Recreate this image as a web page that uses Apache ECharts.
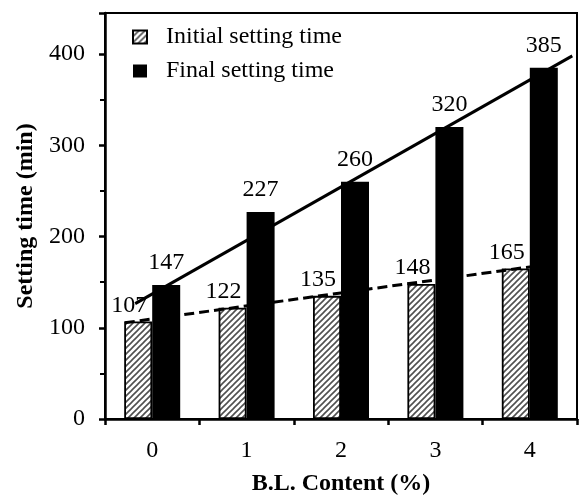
<!DOCTYPE html>
<html>
<head>
<meta charset="utf-8">
<script src="https://cdn.jsdelivr.net/npm/echarts@6/dist/echarts.min.js"></script>
<style>html,body{margin:0;padding:0;background:#fff}#c{width:580px;height:501px}</style>
</head>
<body>
<div id="c"></div>
<script>
var categories = ['0', '1', '2', '3', '4'];
var initialTime = [107, 122, 135, 148, 165];
var finalTime = [147, 227, 260, 320, 385];
var seriesNames = ['Initial setting time', 'Final setting time'];
// trend lines: [category position, value]
var finalTrend = [[-0.18, 126.5], [4.45, 398]];
var initialTrend = [[-0.29, 105.5], [4.02, 167]];
var yTicks = [0, 100, 200, 300, 400];

var FONT = "'Liberation Serif', 'Times New Roman', serif";

var pc = document.createElement('canvas');
pc.width = 6; pc.height = 6;
var g = pc.getContext('2d');
g.fillStyle = '#fff'; g.fillRect(0, 0, 6, 6);
g.strokeStyle = '#505050'; g.lineWidth = 1.6;
g.beginPath();
g.moveTo(-1, 7); g.lineTo(7, -1);
g.moveTo(-1, 1); g.lineTo(1, -1);
g.moveTo(5, 7); g.lineTo(7, 5);
g.stroke();
var hatch = { image: pc, repeat: 'repeat' };

var chart = echarts.init(document.getElementById('c'), null, { renderer: 'canvas' });
chart.setOption({
  animation: false,
  textStyle: { fontFamily: FONT, color: '#000' },
  grid: { left: 105, right: 3, top: 13, bottom: 74, show: true, borderColor: '#000', borderWidth: 2, containLabel: false },
  legend: {
    orient: 'vertical', left: 132, top: 25, itemGap: 10, padding: 0,
    itemWidth: 14, itemHeight: 13, icon: 'rect',
    data: seriesNames,
    textStyle: { fontFamily: FONT, fontSize: 24, color: '#000', padding: [0, 0, 0, 14] }
  },
  xAxis: [{
    type: 'category', data: categories, boundaryGap: true,
    name: 'B.L. Content (%)', nameLocation: 'middle', nameGap: 53,
    nameTextStyle: { fontFamily: FONT, fontSize: 24, fontWeight: 'bold', color: '#000' },
    axisLine: { lineStyle: { color: '#000', width: 2.5 } },
    axisTick: { show: true, inside: false, length: 6, lineStyle: { color: '#000', width: 2.5 } },
    axisLabel: { fontFamily: FONT, fontSize: 24, color: '#000', margin: 20 }
  }, {
    type: 'value', min: -0.5, max: 4.5, show: false
  }],
  yAxis: {
    type: 'value', min: 0, max: 445, interval: 100,
    name: 'Setting time (min)', nameLocation: 'middle', nameGap: 66,
    nameTextStyle: { fontFamily: FONT, fontSize: 24, fontWeight: 'bold', color: '#000' },
    axisLine: { show: true, onZero: false, lineStyle: { color: '#000', width: 2.5 } },
    axisTick: { show: true, inside: false, length: 6, lineStyle: { color: '#000', width: 2.5 } },
    minorTick: { show: true, splitNumber: 2, length: 5, lineStyle: { color: '#000', width: 2 } },
    splitLine: { show: false },
    axisLabel: { fontFamily: FONT, fontSize: 24, color: '#000', margin: 20,
      formatter: function (v) { return yTicks.indexOf(v) >= 0 ? String(v) : ''; } }
  },
  series: [{
    name: seriesNames[0], type: 'bar', data: initialTime, barWidth: 28, barGap: '0%',
    itemStyle: { color: hatch, borderColor: '#000', borderWidth: 1.8 },
    label: { show: true, position: 'top', distance: 4, offset: [-9, 0],
      fontFamily: FONT, fontSize: 24, color: '#000' }
  }, {
    name: seriesNames[1], type: 'bar', data: finalTime, barWidth: 28,
    itemStyle: { color: '#000' },
    label: { show: true, position: 'top', distance: 10,
      fontFamily: FONT, fontSize: 24, color: '#000' }
  }, {
    type: 'line', xAxisIndex: 1, data: finalTrend, symbol: 'none', silent: true,
    lineStyle: { color: '#000', width: 3, type: 'solid' }, z: 5
  }, {
    type: 'line', xAxisIndex: 1, data: initialTrend, symbol: 'none', silent: true,
    lineStyle: { color: '#000', width: 3, type: [10, 5] }, z: 5
  }]
});
</script>
</body>
</html>
